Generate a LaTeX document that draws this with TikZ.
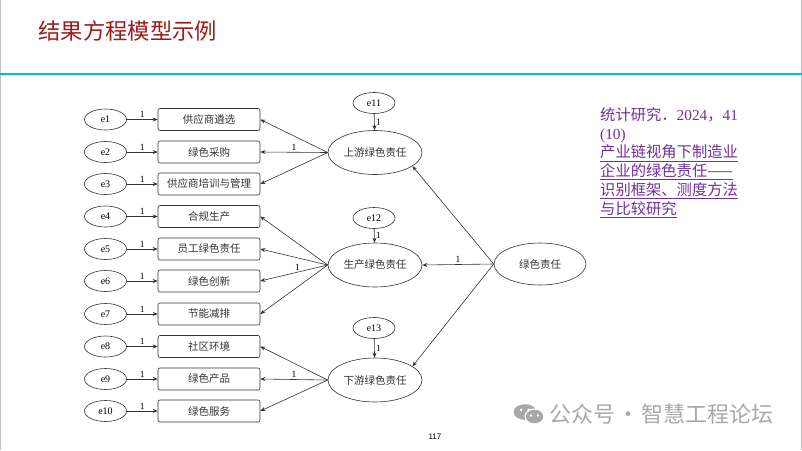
\documentclass[tikz,border=0pt]{standalone}
\usepackage{fontspec}
\setmainfont{Liberation Serif}
\newfontfamily\cjk{Noto Sans CJK SC}
\newfontfamily\pagefont{Liberation Sans}
\usetikzlibrary{arrows.meta,shapes.geometric}
\definecolor{titlered}{HTML}{9C1A1A}
\definecolor{rulecyan}{HTML}{00B8F0}
\definecolor{refpurple}{HTML}{7030A0}
\definecolor{markgray}{HTML}{A8A8A8}
\definecolor{framegray}{HTML}{C0C0C0}
\definecolor{linegray}{HTML}{333333}

\begin{document}
\begin{tikzpicture}[x=1pt, y=-1pt,
    err/.style={ellipse, draw=linegray, line width=0.6pt, minimum width=42pt, minimum height=21pt, inner sep=0pt, font=\fontsize{10}{12}\selectfont},
    item/.style={rectangle, rounded corners=2pt, draw=linegray, line width=0.6pt, minimum width=102pt, minimum height=22pt, inner sep=0pt, font=\cjk\fontsize{10.5}{12}\selectfont, text=black!80},
    latent/.style={ellipse, draw=linegray, line width=0.6pt, minimum width=94pt, minimum height=44pt, inner sep=0pt, font=\cjk\fontsize{10.5}{12}\selectfont, text=black!80},
    arrow/.style={-{Stealth[length=5pt,width=4pt]}, draw=linegray, line width=0.6pt},
    one/.style={font=\fontsize{9.5}{10}\selectfont, inner sep=1.5pt}
]
    \useasboundingbox (0,0) rectangle (802,450);

    % Slide frame and title
    \draw[framegray, line width=1pt] (0.5,0) -- (0.5,450);
    \draw[framegray, line width=1pt] (801.5,0) -- (801.5,450);
    \draw[rulecyan, line width=2pt] (0,74) -- (802,74);
    \node[anchor=west, text=titlered, font=\cjk\fontsize{22.3}{25}\selectfont] (title) at (35,31) {结果方程模型示例};

    % Error terms and indicators
    \foreach \i/\y/\t in {1/119.5/供应商遴选, 2/152/绿色采购, 3/184/供应商培训与管理,
                          4/216.5/合规生产, 5/249/员工绿色责任, 6/281/绿色创新, 7/314/节能减排,
                          8/346.5/社区环境, 9/379/绿色产品, 10/411/绿色服务} {
        \node[err] (e\i) at (105.5,\y) {e\i};
        \node[item] (b\i) at (209,\y) {\t};
        \draw[arrow] (e\i) -- node[one, above] {1} (b\i);
    }

    % First-order factors
    \node[latent] (up) at (375,152.5) {上游绿色责任};
    \node[latent] (mid) at (375,265) {生产绿色责任};
    \node[latent] (down) at (375,380) {下游绿色责任};

    % Residuals
    \node[err] (e11) at (374,103) {e11};
    \node[err] (e12) at (374,218) {e12};
    \node[err] (e13) at (374,328) {e13};
    \draw[arrow] (e11) -- node[one, right] {1} (up);
    \draw[arrow] (e12) -- node[one, right] {1} (mid);
    \draw[arrow] (e13) -- node[one, right] {1} (down);

    % Loadings
    \foreach \j in {1,3}
        \draw[arrow] (up.west) -- (b\j.east);
    \draw[arrow] (up.west) -- node[one, above] {1} (b2.east);
    \foreach \j in {4,5,7}
        \draw[arrow] (mid.west) -- (b\j.east);
    \draw[arrow] (mid.west) -- node[one, above, pos=0.45] {1} (b6.east);
    \foreach \j in {8,10}
        \draw[arrow] (down.west) -- (b\j.east);
    \draw[arrow] (down.west) -- node[one, above] {1} (b9.east);

    % Second-order factor
    \node[latent, minimum width=92pt, minimum height=42pt] (green) at (540,264) {绿色责任};
    \draw[arrow] (green.west) -- (up.-20);
    \draw[arrow] (green.west) -- node[one, above] {1} (mid.east);
    \draw[arrow] (green.west) -- (down.20);

    % Source note
    \node[anchor=north west, align=left, text=refpurple, inner sep=0pt,
          font=\fontsize{15.3}{18.9}\selectfont] (source) at (600,107)
        {{\cjk 统计研究．}2024{\cjk ，}41\\(10)\\
         \underline{\cjk 产业链视角下制造业}\\
         \underline{\cjk 企业的绿色责任——}\\
         \underline{\cjk 识别框架、测度方法}\\
         \underline{\cjk 与比较研究}};

    % Page number and watermark
    \node[font=\pagefont\fontsize{8}{9}\selectfont] (pageno) at (435,437) {117};
    \fill[markgray] (525,412) ellipse (11.5pt and 7.8pt);
    \fill[white] (534.5,416.5) ellipse (10pt and 8pt);
    \fill[markgray] (534.5,416.5) ellipse (8.7pt and 6.8pt);
    \fill[white] (521,410) circle (1.5pt) (528.5,410) circle (1.5pt)
                 (531,415.5) circle (1.3pt) (538,415.5) circle (1.3pt);
    \node[anchor=west, text=markgray, font=\cjk\fontsize{22}{24}\selectfont, inner sep=0pt] (mark) at (549,414)
        {公众号\hspace{2pt}·\hspace{2pt}智慧工程论坛};
\end{tikzpicture}
\end{document}
